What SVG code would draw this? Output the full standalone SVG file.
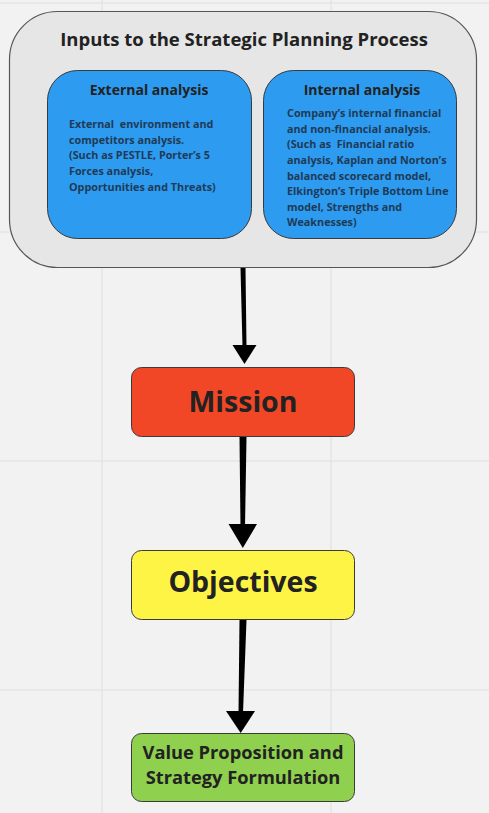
<svg xmlns="http://www.w3.org/2000/svg" width="489" height="813" viewBox="0 0 489 813">
<defs>
<style>
.grid{stroke:#e4e4e4;stroke-width:1.5}
.t{font-family:"Open Sans","Noto Sans",sans-serif;font-weight:700;fill:#222;text-anchor:middle}
.body{font-family:"Open Sans","Noto Sans",sans-serif;font-weight:700;font-size:10.8px;fill:#1f3a55}
.box{stroke:#3a3a3a;stroke-width:1}
.shaft{fill:#000}
</style>
<marker id="ah" markerUnits="userSpaceOnUse" markerWidth="22" markerHeight="28" viewBox="0 0 22 28" refX="1" refY="14" orient="auto">
<path d="M0,0 L22,14 L0,28 L3,14 z" fill="#000"/>
</marker>
</defs>
<rect width="489" height="813" fill="#f2f2f2"/>
<g id="grid">
<line class="grid" x1="102" y1="0" x2="102" y2="813"/>
<line class="grid" x1="331" y1="0" x2="331" y2="813"/>
<line class="grid" x1="0" y1="3" x2="489" y2="3"/>
<line class="grid" x1="0" y1="232" x2="489" y2="232"/>
<line class="grid" x1="0" y1="461" x2="489" y2="461"/>
<line class="grid" x1="0" y1="690" x2="489" y2="690"/>
</g>
<g id="inputs">
<rect x="9.5" y="11.5" width="467" height="256" rx="48" fill="#e6e6e6" stroke="#555" stroke-width="1.2"/>
<text class="t" x="244" y="46" font-size="18.5">Inputs to the Strategic Planning Process</text>
</g>
<g id="external">
<rect class="box" x="47.5" y="70.5" width="204" height="168" rx="30" fill="#2d9bf0"/>
<text class="t" x="149" y="95" font-size="14">External analysis</text>
<text class="body" xml:space="preserve"><tspan x="69" y="128">External  environment and</tspan><tspan x="69" y="143.5">competitors analysis.</tspan><tspan x="69" y="159">(Such as PESTLE, Porter’s 5</tspan><tspan x="69" y="174.5">Forces analysis,</tspan><tspan x="69" y="190.5">Opportunities and Threats)</tspan></text>
</g>
<g id="internal">
<rect class="box" x="263.5" y="70.5" width="193" height="168" rx="30" fill="#2d9bf0"/>
<text class="t" x="362" y="95" font-size="14">Internal analysis</text>
<text class="body" xml:space="preserve"><tspan x="287" y="117">Company’s internal financial</tspan><tspan x="287" y="132.5">and non-financial analysis.</tspan><tspan x="287" y="148">(Such as  Financial ratio</tspan><tspan x="287" y="163.5">analysis, Kaplan and Norton’s</tspan><tspan x="287" y="179.5">balanced scorecard model,</tspan><tspan x="287" y="195">Elkington’s Triple Bottom Line</tspan><tspan x="287" y="210.5">model, Strengths and</tspan><tspan x="287" y="226">Weaknesses)</tspan></text>
</g>
<g id="mission">
<rect class="box" x="131.5" y="367.5" width="223" height="69" rx="10" fill="#f24726"/>
<text class="t" x="243" y="412" font-size="28.5">Mission</text>
</g>
<g id="objectives">
<rect class="box" x="131.5" y="550.5" width="223" height="69" rx="10" fill="#fef445"/>
<text class="t" x="243" y="592" font-size="28.5">Objectives</text>
</g>
<g id="value">
<rect class="box" x="131.5" y="733.5" width="223" height="68" rx="10" fill="#8fd14f"/>
<text class="t" x="243" y="759" font-size="18.3">Value Proposition and</text>
<text class="t" x="243" y="784" font-size="18.3">Strategy Formulation</text>
</g>
<g id="connectors">
<polygon class="shaft" points="240.5,268 245.5,268 246.5,347 242.5,347"/>
<polygon class="shaft" points="232.5,345 256.5,345 244.5,364"/>
<polygon class="shaft" points="239.5,437 246.5,437 245,527 240.5,527"/>
<polygon class="shaft" points="228.5,524 257,524 242.8,548"/>
<polygon class="shaft" points="239.5,620 246.5,620 243,713 238.5,713"/>
<polygon class="shaft" points="226,711 255,711 240.7,733"/>
</g>
</svg>
